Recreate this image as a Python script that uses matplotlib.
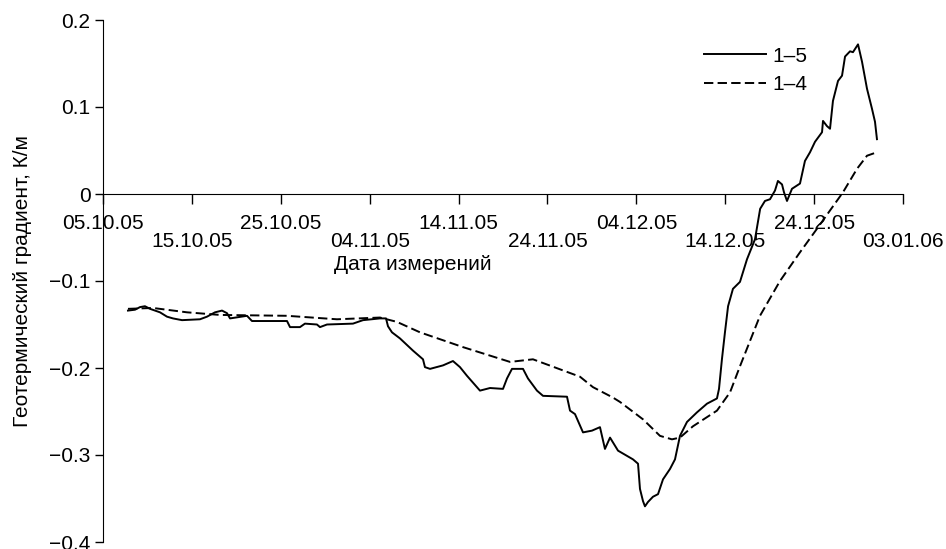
import numpy as np
import matplotlib
matplotlib.use("Agg")
import matplotlib.pyplot as plt
import matplotlib.dates as mdates

start_date = np.datetime64("2005-10-05")

# Series 1–5 (days since 05.10.05, gradient K/m)
days_15 = [2.81, 3.60, 4.16, 4.72, 5.29, 5.85, 6.41, 7.20, 7.87, 8.89, 10.91, 11.70, 12.60,
           13.39, 13.95, 14.29, 16.20, 16.76, 20.70, 21.04, 22.16, 22.72, 24.07, 24.41,
           25.20, 28.12, 29.25, 31.16, 31.84, 32.06, 32.51, 33.41, 34.87, 36.00, 36.22,
           36.79, 38.25, 39.37, 40.16, 40.95, 42.41, 43.54, 45.00, 45.45, 46.01, 47.25,
           47.81, 48.82, 49.50, 52.20, 52.54, 53.10, 54.00, 55.01, 55.91, 56.47, 57.04,
           57.94, 59.62, 60.19, 60.41, 60.75, 60.97, 61.31, 61.87, 62.44, 63.00, 63.79,
           64.35, 64.91, 65.70, 66.82, 67.95, 69.07, 69.30, 69.63, 69.97, 70.32, 70.87,
           71.66, 72.45, 73.35, 73.93, 74.47, 75.04, 75.60, 75.93, 76.39, 76.61, 76.95,
           77.51, 78.41, 78.97, 79.54, 80.10, 80.89, 81.00, 81.45, 81.79, 82.12, 82.69,
           83.14, 83.48, 84.04, 84.37, 84.94, 85.39, 85.95, 86.51, 86.85, 87.07]
grad_15 = [-0.134, -0.133, -0.130, -0.129, -0.132, -0.134, -0.136, -0.141, -0.143, -0.145,
           -0.144, -0.141, -0.136, -0.134, -0.137, -0.143, -0.140, -0.146, -0.146, -0.153,
           -0.153, -0.149, -0.150, -0.153, -0.150, -0.149, -0.145, -0.143, -0.143, -0.152,
           -0.159, -0.166, -0.180, -0.190, -0.199, -0.201, -0.197, -0.192, -0.199, -0.209,
           -0.226, -0.223, -0.224, -0.212, -0.201, -0.201, -0.212, -0.226, -0.232, -0.233,
           -0.249, -0.253, -0.274, -0.272, -0.268, -0.293, -0.280, -0.295, -0.305, -0.310,
           -0.339, -0.353, -0.359, -0.354, -0.348, -0.345, -0.328, -0.316, -0.305, -0.278,
           -0.262, -0.251, -0.241, -0.235, -0.224, -0.190, -0.159, -0.129, -0.109, -0.101,
           -0.075, -0.052, -0.017, -0.008, -0.006, 0.004, 0.015, 0.011, 0.002, -0.008,
           0.006, 0.012, 0.038, 0.048, 0.060, 0.071, 0.084, 0.078, 0.075, 0.107, 0.130,
           0.136, 0.158, 0.164, 0.163, 0.172, 0.152, 0.121, 0.098, 0.083, 0.063]

# Series 1–4
days_14 = [2.81, 5.62, 9.45, 13.16, 20.70, 26.32, 31.16, 33.07, 35.66, 40.50, 45.79, 48.37,
           53.66, 55.12, 57.37, 58.16, 60.75, 62.66, 64.01, 64.91, 66.37, 69.07, 70.54,
           71.66, 73.91, 76.16, 78.41, 80.32, 83.25, 84.83, 85.95, 87.07]
grad_14 = [-0.132, -0.131, -0.136, -0.139, -0.140, -0.144, -0.142, -0.147, -0.159, -0.176,
           -0.193, -0.190, -0.210, -0.222, -0.234, -0.239, -0.259, -0.278, -0.282, -0.280,
           -0.267, -0.249, -0.228, -0.198, -0.140, -0.100, -0.067, -0.040, 0.002, 0.029,
           0.044, 0.048]

series_labels = ["1–5", "1–4"]
upper_tick_labels = ["05.10.05", "25.10.05", "14.11.05", "04.12.05", "24.12.05"]
lower_tick_labels = ["15.10.05", "04.11.05", "24.11.05", "14.12.05", "03.01.06"]
y_ticks = [-0.4, -0.3, -0.2, -0.1, 0, 0.1, 0.2]
y_tick_labels = ["−0.4", "−0.3", "−0.2", "−0.1", "0", "0.1", "0.2"]


def to_dates(days):
    return start_date + (np.array(days) * 24 * 3600).astype("timedelta64[s]")


def parse(s):
    d, m, y = s.split(".")
    return np.datetime64(f"20{y}-{m}-{d}")


plt.rcParams['font.family'] = ['Liberation Sans', 'DejaVu Sans']
plt.rcParams['font.size'] = 15

fig = plt.figure(figsize=(9.46, 5.49), dpi=100)
ax = fig.add_axes([103 / 946, 1 - 542 / 549, 800 / 946, 522 / 549])

ax.plot(to_dates(days_15), grad_15, color="black", lw=1.4, label=series_labels[0])
ax.plot(to_dates(days_14), grad_14, color="black", lw=1.4, dashes=(4.8, 2.2),
        label=series_labels[1])

ax.set_xlim(mdates.date2num(start_date), mdates.date2num(start_date + np.timedelta64(90, "D")))
ax.set_ylim(-0.4, 0.2)

ax.spines['top'].set_visible(False)
ax.spines['right'].set_visible(False)
ax.spines['bottom'].set_position(('data', 0))
ax.spines['left'].set_bounds(-0.4, 0.2)

major = [mdates.date2num(parse(s)) for s in upper_tick_labels]
minor = [mdates.date2num(parse(s)) for s in lower_tick_labels]
ax.set_xticks(major)
ax.set_xticklabels(upper_tick_labels)
ax.set_xticks(minor, minor=True)
ax.set_xticklabels(lower_tick_labels, minor=True)
ax.tick_params(axis='x', which='both', direction='out', length=7.5, width=1, pad=7,
               labelsize=15)
ax.tick_params(axis='x', which='minor', pad=20)

ax.set_yticks(y_ticks)
ax.set_yticklabels(y_tick_labels)
ax.tick_params(axis='y', direction='out', length=6, width=1, pad=3, labelsize=15)

ax.set_ylabel("Геотермический градиент, К/м", fontsize=15, labelpad=12)
fig.text(413 / 946, 1 - 264 / 549, "Дата измерений", ha="center", va="center", fontsize=15)

leg = ax.legend(loc="upper left", bbox_to_anchor=(685 / 946, 1 - 28 / 549),
                bbox_transform=fig.transFigure, frameon=False, handlelength=3.0,
                handletextpad=0.3, labelspacing=0.45, fontsize=15)

fig.savefig("out.png", dpi=100)
